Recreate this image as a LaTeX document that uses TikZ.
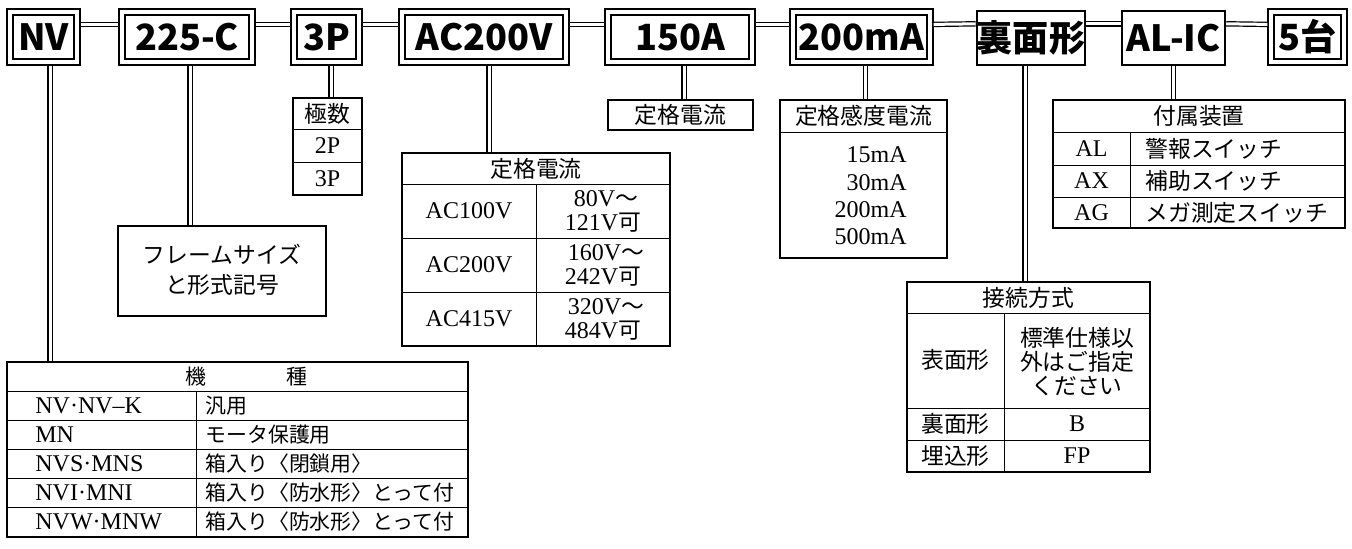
\documentclass[tikz,border=0pt]{standalone}
\usepackage{fontspec}
\setmainfont{Liberation Serif}
\newfontfamily\jp{Noto Sans CJK JP}[Scale=0.95]
\usetikzlibrary{fit}
\newcommand{\codefont}{\jp\bfseries\fontsize{19}{19}\selectfont}
\newcommand{\cellfont}{\fontsize{12}{11}\selectfont}
\newcommand{\kj}{\jp\fontsize{11}{12}\selectfont}
\tikzset{
  outerbox/.style={draw, line width=0.6pt, inner sep=0pt},
  innerbox/.style={draw, line width=1.4pt, inner sep=0pt, minimum height=22pt, font=\codefont},
  singlebox/.style={draw, line width=1.2pt, inner sep=0pt, minimum height=27pt, font=\codefont},
  tabframe/.style={draw, line width=0.9pt, inner sep=0pt},
  rule/.style={line width=0.5pt},
  link/.style={double, double distance=1.5pt, line width=0.6pt},
  cell/.style={inner sep=0pt, font=\cellfont, align=center}
}
\begin{document}
\begin{tikzpicture}[x=0.5pt, y=-0.5pt]
\useasboundingbox (0,0) rectangle (1352,548);

% code boxes along the top
\node[outerbox, fit={(7,9) (80,65)}] (nv) {};
\node[innerbox, minimum width=30.5pt] (nv-in) at (43.5,37) {NV};
\node[outerbox, fit={(119,9) (255,65)}] (sz) {};
\node[innerbox, minimum width=62pt] (sz-in) at (187,37) {225-C};
\node[outerbox, fit={(291,9) (362,65)}] (pole) {};
\node[innerbox, minimum width=29.5pt] (pole-in) at (326.5,37) {3P};
\node[outerbox, fit={(399,9) (569,65)}] (volt) {};
\node[innerbox, minimum width=79pt] (volt-in) at (484,37) {AC200V};
\node[outerbox, fit={(605,9) (755,65)}] (amp) {};
\node[innerbox, minimum width=69pt] (amp-in) at (680,37) {150A};
\node[outerbox, fit={(790,9) (933,65)}] (sens) {};
\node[innerbox, minimum width=65.5pt] (sens-in) at (861.5,37) {200mA};
\node[singlebox, minimum width=54pt] (conn) at (1031,38) {裏面形};
\node[singlebox, minimum width=51.5pt] (acc) at (1173.5,38) {AL-IC};
\node[outerbox, fit={(1268,9) (1347,65)}] (qty) {};
\node[innerbox, minimum width=33.5pt] (qty-in) at (1307.5,37) {5台};

\draw[link] ([yshift=-8pt]nv.north east) -- ([yshift=-8pt]sz.north west);
\draw[link] ([yshift=-8pt]sz.north east) -- ([yshift=-8pt]pole.north west);
\draw[link] ([yshift=-8pt]pole.north east) -- ([yshift=-8pt]volt.north west);
\draw[link] ([yshift=-8pt]volt.north east) -- ([yshift=-8pt]amp.north west);
\draw[link] ([yshift=-8pt]amp.north east) -- ([yshift=-8pt]sens.north west);
\draw[link] ([yshift=-8pt]sens.north east) -- ([yshift=-7pt]conn.north west);
\draw[link] ([yshift=-7pt]conn.north east) -- ([yshift=-7pt]acc.north west);
\draw[link] ([yshift=-7pt]acc.north east) -- ([yshift=-8pt]qty.north west);

% model table
\node[tabframe, fit={(7,362) (468,537)}] (kishu) {};
\draw[rule] (kishu.west |- 0,391) -- (kishu.east |- 0,391);
\draw[rule] (kishu.west |- 0,420) -- (kishu.east |- 0,420);
\draw[rule] (kishu.west |- 0,449) -- (kishu.east |- 0,449);
\draw[rule] (kishu.west |- 0,478) -- (kishu.east |- 0,478);
\draw[rule] (kishu.west |- 0,507) -- (kishu.east |- 0,507);
\draw[rule] (196,391) -- (kishu.south -| 196,0);
\node[cell] (kishu-h) at (246,376.5) {\kj 機\hspace{40pt}種};
\node[cell, anchor=west] (k1a) at (35,405.5) {NV·NV–K};
\node[cell, anchor=west] (k1b) at (205,405.5) {\kj 汎用};
\node[cell, anchor=west] (k2a) at (35,434.5) {MN};
\node[cell, anchor=west] (k2b) at (205,434.5) {\kj モータ保護用};
\node[cell, anchor=west] (k3a) at (35,463.5) {NVS·MNS};
\node[cell, anchor=west] (k3b) at (205,463.5) {\kj 箱入り〈閉鎖用〉};
\node[cell, anchor=west] (k4a) at (35,492.5) {NVI·MNI};
\node[cell, anchor=west] (k4b) at (205,492.5) {\kj 箱入り〈防水形〉とって付};
\node[cell, anchor=west] (k5a) at (35,522) {NVW·MNW};
\node[cell, anchor=west] (k5b) at (205,522) {\kj 箱入り〈防水形〉とって付};

% frame size box
\node[tabframe, fit={(118,226) (326,316)}] (frame) {};
\node[cell] (frame-t) at (222,270) {\jp フレームサイズ\\[4pt]\jp と形式記号};

% poles table
\node[tabframe, fit={(293,98) (362,195)}] (kyoku) {};
\draw[rule] (kyoku.west |- 0,129) -- (kyoku.east |- 0,129);
\draw[rule] (kyoku.west |- 0,162) -- (kyoku.east |- 0,162);
\node[cell] (kyoku-h) at (327.5,113.5) {\jp 極数};
\node[cell] (kyoku-1) at (327.5,145.5) {2P};
\node[cell] (kyoku-2) at (327.5,178.5) {3P};

% voltage table
\node[tabframe, fit={(402,153) (670,346)}] (denatsu) {};
\draw[rule] (denatsu.west |- 0,184) -- (denatsu.east |- 0,184);
\draw[rule] (denatsu.west |- 0,238) -- (denatsu.east |- 0,238);
\draw[rule] (denatsu.west |- 0,292) -- (denatsu.east |- 0,292);
\draw[rule] (536,184) -- (denatsu.south -| 536,0);
\node[cell] (denatsu-h) at (536,168.5) {\jp 定格電流};
\node[cell] (d1a) at (469,211) {AC100V};
\node[cell] (d1b) at (606,199) {80V{\jp ～}};
\node[cell] (d1c) at (603,223) {121V{\jp 可}};
\node[cell] (d2a) at (469,265) {AC200V};
\node[cell] (d2b) at (606,253) {160V{\jp ～}};
\node[cell] (d2c) at (603,277) {242V{\jp 可}};
\node[cell] (d3a) at (469,319) {AC415V};
\node[cell] (d3b) at (606,307) {320V{\jp ～}};
\node[cell] (d3c) at (603,331) {484V{\jp 可}};

% rated current label
\node[tabframe, minimum width=72.5pt, minimum height=15pt, font=\cellfont\jp] (teikaku) at (680.5,115) {定格電流};

% sensitivity table
\node[tabframe, fit={(780,100) (947,258)}] (kando) {};
\draw[rule] (kando.west |- 0,132) -- (kando.east |- 0,132);
\node[cell] (kando-h) at (863.5,116) {\jp 定格感度電流};
\node[cell, anchor=east] (kando-1) at (907,155) {15mA};
\node[cell, anchor=east] (kando-2) at (907,183) {30mA};
\node[cell, anchor=east] (kando-3) at (907,210) {200mA};
\node[cell, anchor=east] (kando-4) at (907,237) {500mA};

% connection table
\node[tabframe, fit={(907,282) (1150,472)}] (setsu) {};
\draw[rule] (setsu.west |- 0,313) -- (setsu.east |- 0,313);
\draw[rule] (setsu.west |- 0,408) -- (setsu.east |- 0,408);
\draw[rule] (setsu.west |- 0,440) -- (setsu.east |- 0,440);
\draw[rule] (1004,313) -- (setsu.south -| 1004,0);
\node[cell] (setsu-h) at (1028.5,297.5) {\jp 接続方式};
\node[cell] (s1a) at (955.5,360) {\jp 表面形};
\node[cell] (s1b) at (1077,361.5) {\jp 標準仕様以\\[1pt]\jp 外はご指定\\[1pt]\jp ください};
\node[cell] (s2a) at (955.5,424) {\jp 裏面形};
\node[cell] (s2b) at (1077,424) {B};
\node[cell] (s3a) at (955.5,456) {\jp 埋込形};
\node[cell] (s3b) at (1077,456) {FP};

% accessory table
\node[tabframe, fit={(1053,100) (1345,228)}] (fuzoku) {};
\draw[rule] (fuzoku.west |- 0,132) -- (fuzoku.east |- 0,132);
\draw[rule] (fuzoku.west |- 0,165) -- (fuzoku.east |- 0,165);
\draw[rule] (fuzoku.west |- 0,197) -- (fuzoku.east |- 0,197);
\draw[rule] (1130,132) -- (fuzoku.south -| 1130,0);
\node[cell] (fuzoku-h) at (1199,116) {\jp 付属装置};
\node[cell] (f1a) at (1091.5,148.5) {AL};
\node[cell, anchor=west] (f1b) at (1145,148.5) {\jp 警報スイッチ};
\node[cell] (f2a) at (1091.5,181) {AX};
\node[cell, anchor=west] (f2b) at (1145,181) {\jp 補助スイッチ};
\node[cell] (f3a) at (1091.5,212.5) {AG};
\node[cell, anchor=west] (f3b) at (1145,212.5) {\jp メガ測定スイッチ};

% drops from the code boxes
\coordinate (nv-drop) at ([xshift=3.25pt]nv.south);
\draw[link] (nv-drop) -- (nv-drop |- kishu.north);
\coordinate (sz-drop) at ([xshift=1.5pt]sz.south);
\draw[link] (sz-drop) -- (sz-drop |- frame.north);
\coordinate (pole-drop) at ([xshift=2.25pt]pole.south);
\draw[link] (pole-drop) -- (pole-drop |- kyoku.north);
\coordinate (volt-drop) at ([xshift=2.5pt]volt.south);
\draw[link] (volt-drop) -- (volt-drop |- denatsu.north);
\coordinate (amp-drop) at ([xshift=2pt]amp.south);
\draw[link] (amp-drop) -- (amp-drop |- teikaku.north);
\coordinate (sens-drop) at ([xshift=2pt]sens.south);
\draw[link] (sens-drop) -- (sens-drop |- kando.north);
\coordinate (conn-drop) at ([xshift=-3pt]conn.south);
\draw[link] (conn-drop) -- (conn-drop |- setsu.north);
\draw[link] (acc.south) -- (acc.south |- fuzoku.north);

\end{tikzpicture}
\end{document}
